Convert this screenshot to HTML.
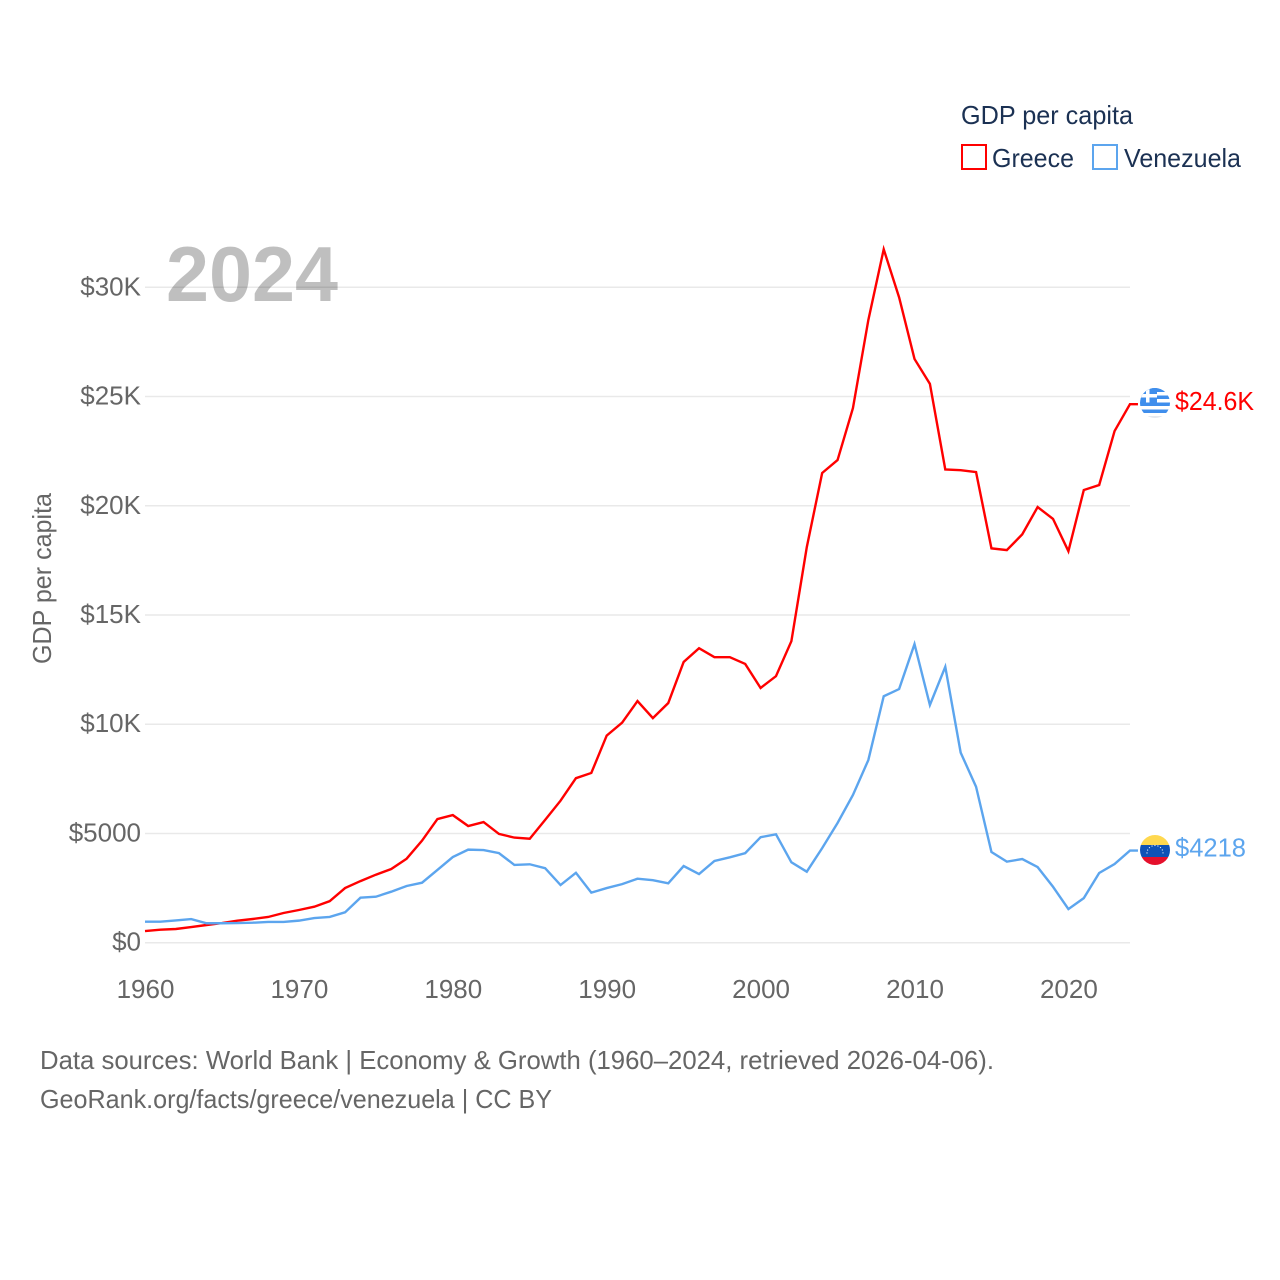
<!DOCTYPE html>
<html lang="en">
<head>
<meta charset="utf-8">
<title>GDP per capita: Greece and Venezuela</title>
<style>
html,body{margin:0;padding:0;background:#fff;width:1280px;height:1280px;overflow:hidden}
svg{display:block}
text{font-family:"Liberation Sans",sans-serif}
</style>
</head>
<body>
<svg id="chart" xmlns="http://www.w3.org/2000/svg" width="1280" height="1280" viewBox="0 0 1280 1280">
  <defs>
    <clipPath id="flag-clip-gr"><circle cx="1155" cy="403" r="15"/></clipPath>
    <clipPath id="flag-clip-ve"><circle cx="1155" cy="850" r="15"/></clipPath>
  </defs>
  <rect width="1280" height="1280" fill="#fff"/>
  <g id="grid"></g>
  <text x="166" y="301" font-size="78" font-weight="700" fill="#000" fill-opacity="0.25" textLength="172" lengthAdjust="spacingAndGlyphs">2024</text>
  <g id="y-ticks"></g>
  <g id="x-ticks"></g>
  <text transform="translate(51 664) rotate(-90)" font-size="26" fill="#666" textLength="171" lengthAdjust="spacingAndGlyphs">GDP per capita</text>
  <g id="series"></g>

  <g>
    <text x="961" y="124" font-size="26" fill="#1b3153" textLength="172" lengthAdjust="spacingAndGlyphs">GDP per capita</text>
    <g>
      <rect x="962" y="145" width="24" height="24" fill="#fff" stroke="#ff0000" stroke-width="2"/>
      <text x="992" y="167" font-size="26" fill="#1b3153" textLength="82" lengthAdjust="spacingAndGlyphs">Greece</text>
    </g>
    <g>
      <rect x="1093" y="145" width="24" height="24" fill="#fff" stroke="#5ca5ee" stroke-width="2"/>
      <text x="1124" y="167" font-size="26" fill="#1b3153" textLength="117" lengthAdjust="spacingAndGlyphs">Venezuela</text>
    </g>
  </g>

  <g clip-path="url(#flag-clip-gr)">
    <rect x="1140" y="388" width="30" height="30" fill="#fff"/>
    <rect x="1140" y="388" width="30" height="4" fill="#3f8eec"/>
    <rect x="1140" y="395.5" width="30" height="3.5" fill="#3f8eec"/>
    <rect x="1140" y="402.5" width="30" height="3.5" fill="#3f8eec"/>
    <rect x="1140" y="409.5" width="30" height="3.5" fill="#3f8eec"/>
    <rect x="1140" y="388" width="17" height="14.5" fill="#3f8eec"/>
    <rect x="1140" y="394" width="17" height="3.5" fill="#fff"/>
    <rect x="1146" y="388" width="3.5" height="14.5" fill="#fff"/>
    <rect x="1140" y="416" width="30" height="2" fill="#e4e8ee"/>
  </g>
  <g clip-path="url(#flag-clip-ve)">
    <rect x="1140" y="835" width="30" height="10.5" fill="#ffd84f"/>
    <rect x="1140" y="845" width="30" height="12" fill="#0f52b6"/>
    <rect x="1140" y="857" width="30" height="8" fill="#e5102c"/>
    <path d="M1147 853a8 7.5 0 0 1 16 0" fill="none" stroke="#e6eef9" stroke-width="1.2" stroke-linecap="round" stroke-dasharray="0.1 2.9"/>
  </g>
  <g id="end-labels"></g>

  <text x="40" y="1069" font-size="26" fill="#666" textLength="954" lengthAdjust="spacingAndGlyphs">Data sources: World Bank | Economy &amp; Growth (1960–2024, retrieved 2026-04-06).</text>
  <text x="40" y="1108" font-size="26" fill="#666" textLength="512" lengthAdjust="spacingAndGlyphs">GeoRank.org/facts/greece/venezuela | CC BY</text>
</svg>

<script>
const startYear = 1960;
const greeceValues = [535,595,627,718,810,900,1007,1085,1177,1360,1497,1648,1900,2500,2820,3113,3373,3845,4670,5660,5840,5340,5520,4980,4810,4760,5620,6500,7530,7770,9480,10070,11060,10280,10970,12850,13480,13070,13070,12760,11660,12200,13800,18100,21500,22090,24470,28500,31740,29540,26720,25580,21660,21630,21540,18050,17970,18690,19940,19400,17920,20720,20950,23420,24650];
const venezuelaValues = [960,960,1020,1080,890,890,900,915,950,950,1010,1130,1180,1390,2060,2105,2335,2595,2745,3330,3920,4260,4240,4100,3560,3590,3410,2640,3200,2290,2500,2680,2930,2860,2720,3510,3140,3740,3910,4100,4830,4960,3680,3250,4330,5480,6760,8360,11280,11610,13670,10880,12630,8700,7140,4150,3710,3830,3460,2560,1540,2040,3190,3600,4218];
const yTickValues = [0,5000,10000,15000,20000,25000,30000];
const yTickLabels = ["$0","$5000","$10K","$15K","$20K","$25K","$30K"];
const xTickYears = [1960,1970,1980,1990,2000,2010,2020];
const endLabelGreece = "$24.6K";
const endLabelVenezuela = "$4218";

const SVG_NS = "http://www.w3.org/2000/svg";
function xScale(year){ return 145 + (year - 1960) * 15.39; }
function yScale(value){ return 942.7 - value * 0.021847; }

function make(tag, attrs, parent, text){
  const el = document.createElementNS(SVG_NS, tag);
  for (const k in attrs) el.setAttribute(k, attrs[k]);
  if (text !== undefined) el.textContent = text;
  parent.appendChild(el);
  return el;
}

const gridGroup = document.getElementById("grid");
const yTickGroup = document.getElementById("y-ticks");
yTickValues.forEach(function(v, i){
  const line = make("line", {x1:145, x2:1130, y1:yScale(v), y2:yScale(v), stroke:"#e9e9e9", "stroke-width":1.5}, gridGroup);
  
  
  const label = make("text", {x:141, y:yScale(v)+8, "font-size":26, fill:"#666", "text-anchor":"end"}, yTickGroup, yTickLabels[i]);
  
  
});

const xTickGroup = document.getElementById("x-ticks");
xTickYears.forEach(function(y){
  const label = make("text", {x:xScale(y)+0.5, y:998, "font-size":26, fill:"#666", "text-anchor":"middle"}, xTickGroup, String(y));
  
  
});

function linePath(values){
  let d = "";
  values.forEach(function(v, i){
    d += (i ? "L" : "M") + xScale(startYear + i).toFixed(2) + " " + yScale(v).toFixed(2);
  });
  const last = values[values.length - 1];
  d += "L" + (xScale(startYear + values.length - 1) + 8).toFixed(2) + " " + yScale(last).toFixed(2);
  return d;
}

const seriesGroup = document.getElementById("series");
const greeceLine = make("path", {d:linePath(greeceValues), fill:"none", stroke:"#ff0000", "stroke-width":2.4, "stroke-linejoin":"miter"}, seriesGroup);


const venezuelaLine = make("path", {d:linePath(venezuelaValues), fill:"none", stroke:"#5ca5ee", "stroke-width":2.4, "stroke-linejoin":"miter"}, seriesGroup);



const endGroup = document.getElementById("end-labels");
const greeceEnd = make("text", {x:1175, y:yScale(greeceValues[greeceValues.length-1])+6, "font-size":26, fill:"#ff0000", textLength:79, lengthAdjust:"spacingAndGlyphs"}, endGroup, endLabelGreece);


const venezuelaEnd = make("text", {x:1175, y:yScale(venezuelaValues[venezuelaValues.length-1])+6, "font-size":26, fill:"#5ca5ee", textLength:71, lengthAdjust:"spacingAndGlyphs"}, endGroup, endLabelVenezuela);


</script>
</body>
</html>
